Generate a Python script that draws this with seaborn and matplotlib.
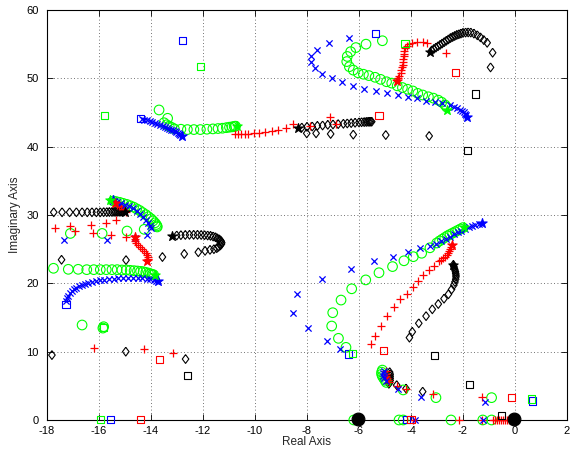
import matplotlib
matplotlib.use("Agg")
import matplotlib.pyplot as plt
import seaborn as sns

# ---------------- data ----------------
# blue 'x' points
blue_x = [-14.35,-14.25,-14.15,-14.05,-13.95,-13.85,-13.75,-13.65,-13.55,-13.45,-13.38,-13.3,-13.22,-13.15,-13.08,-13.02,-12.96,-12.91,-12.87,
          -6.37,-7.14,-7.63,-7.85,-7.85,-7.69,-7.41,-7.05,-6.65,-6.24,-5.80,-5.36,-4.92,-4.51,-4.13,-3.78,-3.42,-3.08,-2.8,-2.5,-2.35,-2.24,-2.13,-2.05,-1.98,-1.92,-1.88,
          -15.3,-15.15,-15.0,-14.85,-14.7,-14.55,-14.42,-14.3,-14.2,-14.1,-14.03,-14.0,-14.15,-14.62,-17.33,-15.7,
          -17.25,-17.22,-17.18,-17.12,-17.05,-16.97,-16.88,-16.78,-16.67,-16.55,-16.42,-16.28,-16.13,-15.97,-15.8,-15.62,-15.44,-15.25,-15.06,-14.87,-14.68,-14.5,-14.33,-14.17,-14.03,-13.9,-13.8,
          -1.4,-1.52,-1.65,-1.78,-1.92,-2.06,-2.2,-2.35,-2.5,-2.66,-2.83,-3.02,-3.27,-3.65,-4.1,-4.68,-5.41,-6.32,-7.41,-8.37,-8.53,-7.95,-7.24,-6.73,
          -5.05,-5.08,-5.07,-5.02,-4.95,-4.51,-3.62,-1.17,-3.85,-1.22,-6.1]
blue_y = [44.05,43.95,43.85,43.75,43.6,43.5,43.35,43.2,43.05,42.9,42.8,42.65,42.5,42.4,42.25,42.1,41.95,41.8,41.7,
          55.95,55.1,54.2,53.2,52.35,51.5,50.6,50.0,49.4,48.9,48.5,48.15,47.86,47.56,47.3,47.05,46.75,46.6,46.35,46.1,45.85,45.6,45.4,45.2,45.0,44.8,44.6,
          31.9,31.7,31.5,31.25,30.95,30.6,30.2,29.75,29.3,28.85,28.45,28.1,27.1,26.6,26.3,26.3,
          17.4,17.8,18.2,18.55,18.85,19.1,19.35,19.55,19.75,19.92,20.08,20.22,20.35,20.45,20.55,20.63,20.7,20.75,20.78,20.8,20.8,20.78,20.75,20.7,20.6,20.5,20.4,
          28.75,28.6,28.4,28.2,27.95,27.7,27.45,27.15,26.85,26.5,26.15,25.8,25.5,25.1,24.55,23.9,23.2,22.05,20.6,18.4,15.6,13.4,11.6,10.4,
          7.2,6.9,6.5,6.1,5.7,4.5,3.4,2.68,0.0,0.0,0.0]
blue_star_x = [-12.82,-1.86,-15.45,-13.72,-1.28]
blue_star_y = [41.56,44.4,32.2,20.3,28.9]
blue_sq_x = [-14.42,-12.8,-5.38,-17.27,-6.41,0.67,-4.17,-15.56]
blue_sq_y = [44.15,55.5,56.6,16.9,9.66,2.78,0.05,0.05]

# red '+' points
red_x = [-10.75,-10.65,-10.55,-10.4,-10.25,-10.05,-9.85,-9.6,-9.35,-9.1,-8.8,-8.53,-7.9,-7.12,-6.9,
         -4.5,-4.45,-4.4,-4.37,-4.34,-4.32,-4.3,-4.29,-4.28,-4.27,-4.25,-4.22,-4.17,-4.08,-3.95,-3.75,-3.55,-3.4,-2.67,
         -15.3,-15.22,-15.15,-15.08,-15.02,-14.98,
         -17.69,-17.12,-16.92,-16.31,-16.24,-15.73,-15.54,-15.35,-14.96,
         -14.62,-14.6,-14.56,-14.5,-14.43,-14.35,-14.27,-14.2,-14.15,-14.13,-14.13,
         -16.2,-14.28,-13.15,
         -2.47,-2.5,-2.53,-2.58,-2.63,-2.69,-2.76,-2.83,-2.91,-3.1,-3.31,-3.53,-3.72,-3.93,-4.17,-4.42,-4.65,-4.91,-5.17,-5.38,-5.54,
         -4.98,-4.98,-4.96,-4.92,-4.88,-4.85,-4.53,-4.19,-3.17,-1.27,
         -5.95,-3.94,-2.15,-1.25,-0.85,-0.75,-0.68,-0.6,-0.52,-0.45,-0.38,-0.3,-0.22,-0.15,-0.08]
red_y = [41.8,41.8,41.82,41.85,41.9,41.95,42.0,42.1,42.25,42.45,42.8,43.3,43.0,44.35,43.3,
         50.0,50.4,50.8,51.2,51.6,52.0,52.4,52.8,53.2,53.6,54.0,54.4,54.75,55.0,55.15,55.25,55.25,55.2,53.65,
         31.5,31.3,31.1,30.9,30.7,30.5,
         28.05,28.4,27.6,28.5,27.3,28.8,27.1,29.2,26.8,
         26.5,26.2,25.9,25.6,25.3,25.0,24.7,24.4,24.1,23.8,23.5,
         10.5,10.35,9.75,
         25.3,25.0,24.7,24.4,24.1,23.9,23.7,23.45,23.2,22.5,21.95,21.2,20.4,19.5,18.5,17.65,16.5,15.27,13.8,12.3,11.1,
         7.1,6.8,6.5,6.2,5.9,5.6,5.0,4.6,3.76,3.4,
         0,0,0,0,0,0,0,0,0,0,0,0,0,0,0]
red_star_x = [-4.55,-15.38,-14.6,-14.14,-2.44]
red_star_y = [49.6,31.7,26.8,23.3,25.6]
red_sq_x = [-5.23,-2.28,-13.67,-14.4,-5.04,-0.12,-4.0]
red_sq_y = [44.5,50.9,8.88,0.05,10.15,3.27,0.05]

# green 'o' points
green_x = [-13.69,-13.36,-13.5,-13.4,-13.3,-13.2,-13.1,-12.85,-12.6,-12.35,-12.1,-11.85,-11.62,-11.42,-11.25,-11.1,-10.98,-10.88,-10.8,-10.75,
           -5.1,-5.73,-6.12,-6.32,-6.45,-6.47,-6.37,-6.22,-6.03,-5.83,-5.62,-5.38,-5.17,-4.94,-4.74,-4.53,-4.33,-4.13,-3.93,-3.74,-3.55,-3.33,-3.14,-2.95,-2.82,-2.69,-2.63,
           -15.45,-15.33,-15.2,-15.07,-14.93,-14.8,-14.67,-14.55,-14.43,-14.32,-14.2,-14.1,-14.0,-13.92,-13.85,-13.8,-13.77,-13.76,
           -14.26,-14.92,-15.88,-17.1,
           -17.75,-17.18,-16.8,-16.47,-16.2,-15.95,-15.72,-15.5,-15.3,-15.12,-14.95,-14.8,-14.65,-14.52,-14.4,-14.3,-14.2,-14.1,-14.02,-13.95,-13.9,
           -16.65,-15.82,-15.85,
           -2.0,-2.1,-2.2,-2.3,-2.4,-2.5,-2.6,-2.7,-2.8,-2.9,-3.01,-3.27,-3.59,-3.91,-4.27,-4.71,-5.23,-5.74,-6.28,-6.69,-7.01,-7.05,-6.79,-6.5,
           -5.1,-5.13,-5.13,-5.1,-5.05,-5.0,-4.95,-4.3,-3.04,-0.9,
           -6.2,-4.46,-4.3,-2.46,-1.24,-0.9]
green_y = [45.37,44.15,43.5,43.2,43.0,42.8,42.6,42.55,42.5,42.5,42.5,42.55,42.6,42.65,42.7,42.78,42.85,42.9,42.95,43.0,
           55.5,55.0,54.5,53.9,53.2,52.45,51.7,51.2,50.8,50.6,50.4,50.15,49.85,49.5,49.3,48.9,48.65,48.4,48.15,47.8,47.56,47.3,47.1,46.8,46.5,46.1,45.8,
           32.05,31.95,31.85,31.7,31.55,31.35,31.15,30.9,30.65,30.35,30.05,29.75,29.45,29.15,28.85,28.6,28.4,28.25,
           27.9,27.65,27.3,27.3,
           22.2,22.05,22.05,22.0,22.0,22.0,22.0,22.0,22.0,21.95,21.95,21.9,21.85,21.8,21.75,21.7,21.6,21.5,21.4,21.3,21.25,
           13.9,13.65,13.45,
           28.15,27.95,27.75,27.55,27.35,27.15,26.95,26.7,26.45,26.2,25.9,25.2,24.4,23.9,23.3,22.45,21.55,20.5,19.2,17.55,15.7,13.75,11.95,10.63,
           7.3,7.0,6.7,6.4,6.1,5.8,5.5,4.4,3.27,3.27,
           0,0,0,0,0,0]
green_star_x = [-10.71,-2.63,-15.56,-13.85,-1.95]
green_star_y = [43.0,45.4,32.2,21.2,28.3]
green_sq_x = [-15.78,-12.09,-4.23,-15.82,-15.95,-6.24,0.62]
green_sq_y = [44.6,51.7,55.1,13.55,0.05,9.76,3.07]

# black diamond points
black_x = [-8.2,-8.0,-7.8,-7.6,-7.4,-7.2,-7.0,-6.8,-6.6,-6.45,-6.3,-6.15,-6.0,-5.9,-5.8,-5.72,-5.65,-5.6,-5.55,-5.51,
           -8.01,-7.65,-7.09,-6.22,-4.97,-3.3,
           -3.2,-3.12,-3.04,-2.96,-2.88,-2.8,-2.72,-2.64,-2.56,-2.48,-2.4,-2.32,-2.24,-2.16,-2.08,-2.0,-1.9,-1.8,-1.7,-1.58,-1.45,-1.33,-1.2,-1.07,-0.86,-0.94,
           -17.74,-17.42,-17.13,-16.87,-16.65,-16.45,-16.27,-16.1,-15.95,-15.82,-15.7,-15.6,-15.5,-15.42,-15.35,-15.28,-15.22,-15.17,-15.12,-15.08,-15.04,
           -13.01,-12.85,-12.68,-12.52,-12.36,-12.21,-12.07,-11.94,-11.82,-11.71,-11.61,-11.52,-11.45,-11.38,-11.33,-11.3,-11.28,-11.29,-11.33,-11.4,-11.47,-11.58,-11.73,-11.92,
           -12.18,-12.72,-13.56,-14.96,-17.44,
           -17.81,-14.97,-12.67,
           -2.37,-2.35,-2.33,-2.31,-2.29,-2.28,-2.27,-2.27,-2.28,-2.31,-2.35,-2.44,-2.56,-2.73,-2.95,-3.18,-3.42,-3.7,-3.95,-4.06,
           -4.82,-4.8,-4.8,-4.8,-4.8,-4.82,-4.85,-4.55,-4.19,-3.55,
           -6.1,-6.07,-6.04,-6.01,-5.98,-0.1,-0.07,-0.04,-0.01,0.02]
black_y = [42.8,42.9,42.95,43.05,43.1,43.2,43.25,43.3,43.35,43.4,43.45,43.5,43.55,43.58,43.6,43.62,43.64,43.65,43.66,43.66,
           41.95,41.95,41.86,41.76,41.7,41.56,
           54.1,54.3,54.5,54.7,54.9,55.1,55.3,55.5,55.7,55.9,56.05,56.2,56.35,56.45,56.55,56.65,56.7,56.72,56.7,56.55,56.3,56.0,55.6,55.2,53.75,51.6,
           30.4,30.4,30.4,30.4,30.4,30.4,30.4,30.4,30.4,30.42,30.42,30.44,30.44,30.46,30.46,30.48,30.48,30.5,30.5,30.52,30.52,
           27.0,27.05,27.08,27.1,27.1,27.1,27.08,27.05,27.0,26.95,26.85,26.75,26.6,26.45,26.3,26.15,25.95,25.75,25.55,25.35,25.15,25.0,24.9,24.75,
           24.55,24.3,23.85,23.4,23.45,
           9.5,10.0,8.92,
           22.7,22.45,22.2,21.95,21.7,21.45,21.2,20.95,20.6,20.2,19.75,19.1,18.4,17.75,16.97,16.2,15.2,14.15,12.9,12.05,
           7.0,6.7,6.4,6.1,5.8,5.5,5.3,5.1,4.6,4.15,
           0.1,0.1,0.1,0.1,0.1,0.1,0.1,0.1,0.1,0.1]
black_star_x = [-8.35,-3.27,-15.0,-13.2,-2.4]
black_star_y = [42.7,53.9,30.5,26.9,22.7]
black_blob_x = [-6.05,-0.05]
black_blob_y = [0.1,0.1]
black_sq_x = [-1.82,-1.52,-12.59,-3.08,-1.76,-0.53]
black_sq_y = [39.5,47.7,6.49,9.5,5.2,0.63]

x_ticks = [-18,-16,-14,-12,-10,-8,-6,-4,-2,0,2]
y_ticks = [0,10,20,30,40,50,60]

# ---------------- plot ----------------
sns.set_style("ticks")
plt.rcParams['font.family'] = ['Liberation Sans', 'DejaVu Sans']

fig = plt.figure(figsize=(5.73, 4.5), dpi=100)
ax = fig.add_axes([0.082, 0.0667, 0.9075, 0.9111])

diamond = [(0, 1), (0.75, 0), (0, -1), (-0.75, 0), (0, 1)]

def pts(x, y, marker, color, s, hollow=True, lw=0.8, z=3):
    kw = dict(x=x, y=y, marker=marker, s=s, ax=ax, legend=False, clip_on=False, zorder=z)
    if marker in ('x', '+'):
        kw.update(color=color, edgecolor=None, linewidth=lw)
    elif hollow:
        kw.update(color=color, facecolor='none', edgecolor=color, linewidth=lw)
    else:
        kw.update(color=color, edgecolor=color, linewidth=lw)
    sns.scatterplot(**kw)

BLUE, RED, GREEN, BLACK = (0, 0, 1), (1, 0, 0), (0, 1, 0), (0, 0, 0)

pts(black_x, black_y, diamond, BLACK, 40)
pts(green_x, green_y, 'o', GREEN, 48)
pts(red_x, red_y, '+', RED, 38, lw=0.9)
pts(blue_x, blue_y, 'x', BLUE, 20, lw=0.9)

pts(blue_sq_x, blue_sq_y, 's', BLUE, 26)
pts(red_sq_x, red_sq_y, 's', RED, 26)
pts(green_sq_x, green_sq_y, 's', GREEN, 26)
pts(black_sq_x, black_sq_y, 's', BLACK, 26)

pts(blue_star_x, blue_star_y, '*', BLUE, 50, hollow=False, z=4)
pts(red_star_x, red_star_y, '*', RED, 50, hollow=False, z=4)
pts(green_star_x, green_star_y, '*', GREEN, 50, hollow=False, z=4)
pts(black_star_x, black_star_y, '*', BLACK, 50, hollow=False, z=4)
pts(black_blob_x, black_blob_y, 'o', BLACK, 85, hollow=False, z=4)

ax.set_xlim(-18, 2)
ax.set_ylim(0, 60)
ax.set_xticks(x_ticks)
ax.set_yticks(y_ticks)
ax.set_xticklabels([str(t) for t in x_ticks])
ax.set_yticklabels([str(t) for t in y_ticks])
ax.grid(True, linestyle=(0, (1, 3)), color='#444444', linewidth=0.6)
ax.tick_params(direction='in', top=True, right=True, length=4, width=0.6, labelsize=8, colors='black')
ax.tick_params(axis='x', pad=4)
ax.tick_params(axis='y', pad=6)
for sp in ax.spines.values():
    sp.set_linewidth(0.8)
    sp.set_color('black')
ax.set_xlabel('Real Axis', fontsize=8.5, labelpad=0)
ax.set_ylabel('Imaginary Axis', fontsize=8.5, labelpad=4)

fig.savefig('out.png', dpi=100)
